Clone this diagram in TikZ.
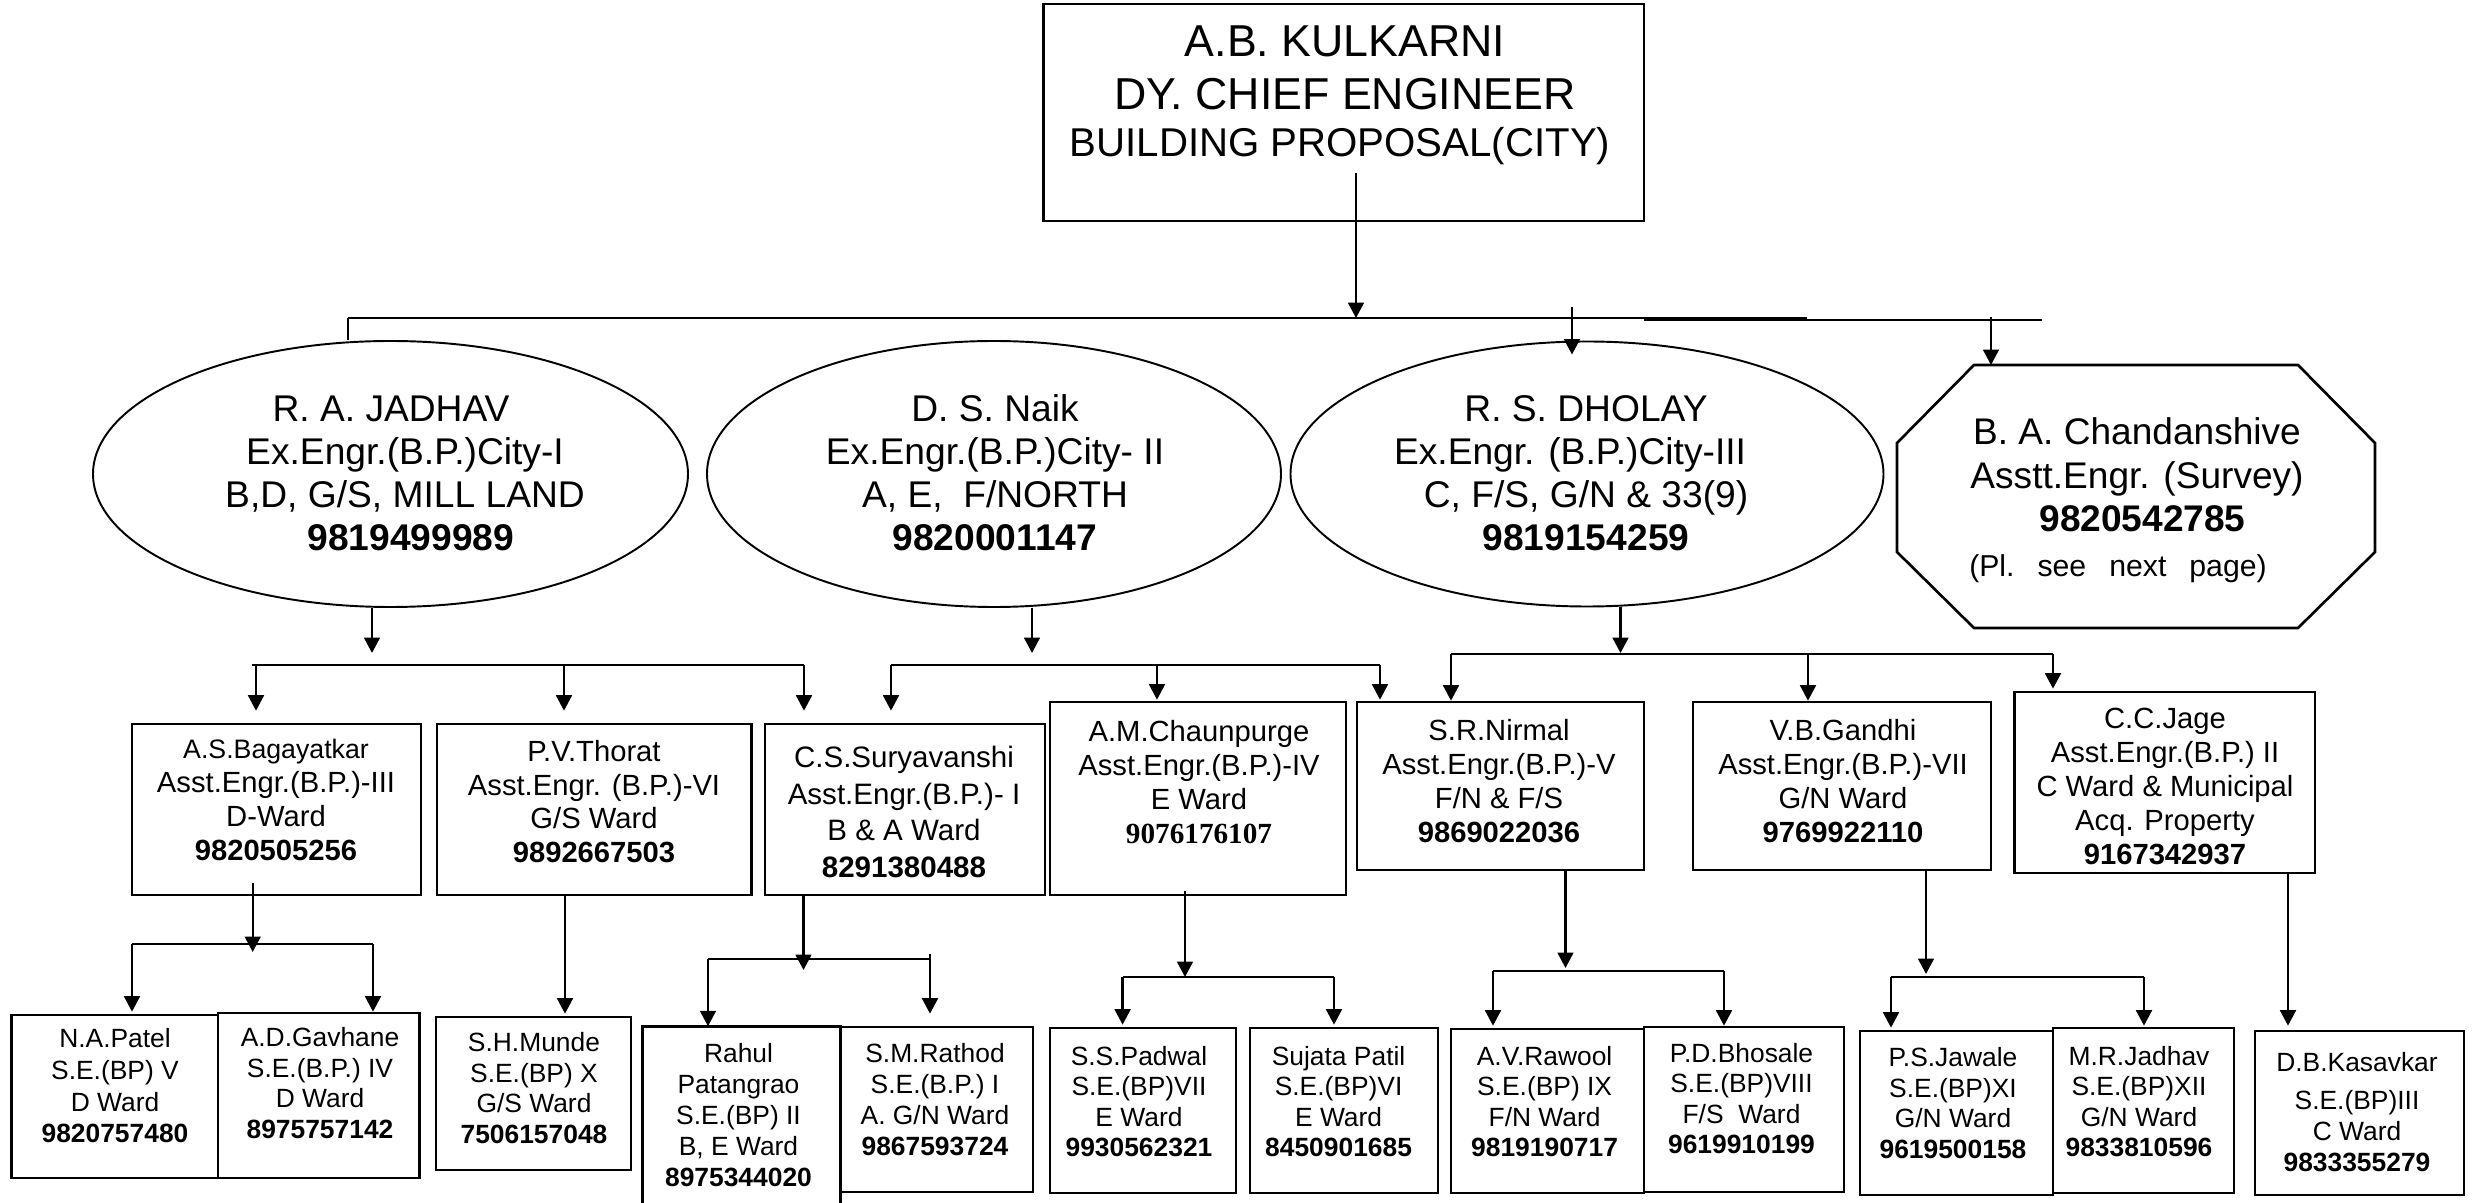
\documentclass[tikz,border=0pt]{standalone}
\usepackage{fontspec}
\setmainfont{Liberation Sans}
\newfontfamily\tnr{Liberation Serif}
\usetikzlibrary{arrows.meta,fit,calc,shapes.geometric}
\newcommand{\tb}[3]{\fontsize{#1}{#2}\selectfont\begin{tabular}[t]{@{}c@{}}#3\end{tabular}}
\begin{document}
\begin{tikzpicture}[x=0.1mm,y=-0.1mm,
  ln/.style={line width=0.68pt},
  arr/.style={line width=0.68pt,-{Triangle[length=4.4pt,width=4.5pt]}},
  bx/.style={draw,line width=0.75pt,inner sep=0pt},
  ell/.style={draw,ellipse,line width=0.55pt,inner sep=0pt},
  tx/.style={anchor=base,inner sep=0pt}]
\fill[white] (0,0) rectangle (2473,1203);
\useasboundingbox (0,0) rectangle (2473,1203);

% ---------- top ----------
\node[bx,fit={(1043.5,4) (1644,221)}] (top) {};
\node[tx] (ttop) at (1345,57) {\tb{12.72}{15.08}{A.B. KULKARNI\\DY. CHIEF ENGINEER}};
\node[tx] (ttop2) at (1340,157) {\tb{11.44}{13}{BUILDING PROPOSAL(CITY)}};

% ---------- level 1 ----------
\node[ell,minimum width=59.5mm,minimum height=26.6mm] (jad) at (390.5,474) {};
\node[ell,minimum width=57.4mm,minimum height=26.6mm] (naik) at (994,474) {};
\node[ell,minimum width=59.3mm,minimum height=26.5mm] (dho) at (1587,474) {};
\node[tx] (tjad) at (405,421.7) {\tb{10.58}{12.18}{R. A. JADHAV\hspace*{2.8mm}\\Ex.Engr.(B.P.)City-I\\B,D, G/S, MILL LAND\\\hspace*{1.2mm}\textbf{9819499989}}};
\node[tx] (tnaik) at (995,421.7) {\tb{10.58}{12.18}{D. S. Naik\\Ex.Engr.(B.P.)City- II\\A, E,\ \ F/NORTH\\\textbf{9820001147}}};
\node[tx] (tdho) at (1586,421.7) {\tb{10.58}{12.18}{R. S. DHOLAY\\Ex.Engr. (B.P.)City-III\hspace*{3.2mm}\\C, F/S, G/N \& 33(9)\\\textbf{9819154259}}};

\draw[line width=0.75pt] (1974,365) -- (2298,365) -- (2375,443) -- (2375,552) -- (2298,628) -- (1974,628) -- (1897,552) -- (1897,443) -- cycle;
\coordinate (oct) at (1991,365);
\node[tx] (toct) at (2137,445) {\tb{10.55}{12.32}{B. A. Chandanshive\\Asstt.Engr. (Survey)\\\hspace*{1.1mm}\textbf{9820542785}}};
\node[tx] (toct2) at (2118,576.7) {\fontsize{8.6}{10}\selectfont (Pl.\hspace{2.3mm}see\hspace{2.3mm}next\hspace{2.3mm}page)};

% top connectors
\coordinate (busL) at (348,318);
\coordinate (busR) at (1807,318);
\coordinate (bus2L) at (1644,320);
\coordinate (bus2R) at (2042,320);
\coordinate (topT) at (1356,318);
\draw[arr] ($(top.south -| topT)+(0,-49)$) -- (topT);
\draw[ln] (busL) -- (busR);
\draw[ln] (bus2L) -- (bus2R);
\draw[ln] (busL) -- (busL |- jad.north);
\coordinate (dhoS) at (1572,307);
\draw[arr] (dhoS) -- ($(dhoS |- dho.north)+(0,14)$);
\coordinate (octS) at (1991,317);
\draw[arr] (octS) -- (oct);

% ---------- level 2 boxes ----------
\node[bx,fit={(132,724) (421,895)}] (bag) {};
\node[bx,fit={(437,724) (751.5,895)}] (tho) {};
\node[bx,fit={(765,724) (1045,895)}] (sur) {};
\node[bx,fit={(1050,702) (1346,895)}] (cha) {};
\node[bx,fit={(1357,702) (1644,870)}] (nir) {};
\node[bx,fit={(1693,702) (1991,870)}] (gan) {};
\node[bx,fit={(2014.6,692) (2315,873)}] (jag) {};

\node[tx] (tbag) at (276,759) {\tb{8.31}{9.67}{{\fontsize{7.6}{9.67}\selectfont A.S.Bagayatkar}\\Asst.Engr.(B.P.)-III\\D-Ward\\\textbf{9820505256}}};
\node[tx] (ttho) at (594,762) {\tb{8.31}{9.5}{P.V.Thorat\\Asst.Engr. (B.P.)-VI\\G/S Ward\\\textbf{9892667503}}};
\node[tx] (tsur) at (904,768) {\tb{8.4}{10.38}{C.S.Suryavanshi\\Asst.Engr.(B.P.)- I\\B \& A Ward\\\textbf{8291380488}}};
\node[tx] (tcha) at (1199,741.7) {\tb{8.31}{9.62}{A.M.Chaunpurge\\Asst.Engr.(B.P.)-IV\\E Ward\\{\tnr\bfseries 9076176107}}};
\node[tx] (tnir) at (1499,741) {\tb{8.31}{9.62}{S.R.Nirmal\\Asst.Engr.(B.P.)-V\\F/N \& F/S\\\textbf{9869022036}}};
\node[tx] (tgan) at (1843,741) {\tb{8.31}{9.62}{V.B.Gandhi\\Asst.Engr.(B.P.)-VII\\G/N Ward\\\textbf{9769922110}}};
\node[tx] (tjag) at (2165,729) {\tb{8.31}{9.67}{C.C.Jage\\Asst.Engr.(B.P.) II\\C Ward \& Municipal\\Acq. Property\\\textbf{9167342937}}};

% level 2 connectors
\coordinate (jT) at (372,653);
\draw[arr] (jad.south -| jT) -- (jT);
\coordinate (jL) at (252,665); \coordinate (jR) at (804,665);
\coordinate (j1) at (256,665); \coordinate (j2) at (564,665);
\draw[ln] (jL) -- (jR);
\draw[arr] (j1) -- ($(j1 |- bag.north)+(0,-12)$);
\draw[arr] (j2) -- ($(j2 |- tho.north)+(0,-12)$);
\draw[arr] (jR) -- ($(jR |- sur.north)+(0,-12)$);

\coordinate (nT) at (1032,653);
\draw[arr] (naik.south -| nT) -- (nT);
\coordinate (nL) at (891,665); \coordinate (nR) at (1380,665); \coordinate (n2) at (1157,665);
\draw[ln] (nL) -- (nR);
\draw[arr] (nL) -- ($(nL |- sur.north)+(0,-12)$);
\draw[arr] (n2) -- ($(n2 |- cha.north)+(0,-1)$);
\draw[arr] (nR) -- ($(nR |- nir.north)+(0,-1)$);

\coordinate (dT) at (1620.5,653);
\draw[arr] (dho.south -| dT) -- (dT);
\coordinate (dL) at (1451,654); \coordinate (d2) at (1808,654); \coordinate (dR) at (2053,654);
\draw[ln] (dL) -- (dR);
\draw[arr] (dL) -- (dL |- nir.north);
\draw[arr] (d2) -- (d2 |- gan.north);
\draw[arr] (dR) -- ($(dR |- jag.north)+(0,-2)$);

% ---------- level 3 boxes ----------
\node[bx,fit={(11.5,1015) (218,1178)}] (pat) {};
\node[bx,fit={(218,1013) (419.4,1178)}] (gav) {};
\node[bx,fit={(436,1017) (631,1170)}] (mun) {};
\node[inner sep=0pt,fit={(643,1027) (840,1203)}] (rah) {};
\draw[line width=0.75pt] (rah.south west) -- (rah.north west) -- (rah.north east) -- (rah.south east);
\node[bx,fit={(840,1027) (1033,1192)}] (rat) {};
\node[bx,fit={(1050,1028) (1236,1193)}] (pad) {};
\node[bx,fit={(1250,1028) (1438,1193)}] (suj) {};
\node[bx,fit={(1451,1029) (1644,1193)}] (raw) {};
\node[bx,fit={(1644,1027) (1844,1192)}] (bho) {};
\node[bx,fit={(1860,1031) (2053,1195)}] (jaw) {};
\node[bx,fit={(2053,1028) (2234,1193)}] (mrj) {};
\node[bx,fit={(2255,1031) (2464,1195)}] (kas) {};

\node[tx] (tpat) at (115,1048) {\tb{7.51}{9.0}{N.A.Patel\\S.E.(BP) V\\D Ward\\\textbf{9820757480}}};
\node[tx] (tgav) at (320,1046.7) {\tb{7.51}{8.68}{A.D.Gavhane\\S.E.(B.P.) IV\\D Ward\\\textbf{8975757142}}};
\node[tx] (tmun) at (534,1051.7) {\tb{7.51}{8.68}{S.H.Munde\\S.E.(BP) X\\G/S Ward\\\textbf{7506157048}}};
\node[tx] (trah) at (738.5,1063) {\tb{7.51}{8.75}{Rahul\\Patangrao\\S.E.(BP) II\\B, E Ward\\\textbf{8975344020}}};
\node[tx] (trat) at (935,1063) {\tb{7.51}{8.75}{S.M.Rathod\\S.E.(B.P.) I\\A. G/N Ward\\\textbf{9867593724}}};
\node[tx] (tpad) at (1139,1065) {\tb{7.51}{8.68}{S.S.Padwal\\S.E.(BP)VII\\E Ward\\\textbf{9930562321}}};
\node[tx] (tsuj) at (1338.6,1065) {\tb{7.51}{8.68}{Sujata Patil\\S.E.(BP)VI\\E Ward\\\textbf{8450901685}}};
\node[tx] (traw) at (1544.6,1065) {\tb{7.51}{8.68}{A.V.Rawool\\S.E.(BP) IX\\F/N Ward\\\textbf{9819190717}}};
\node[tx] (tbho) at (1741.5,1062) {\tb{7.51}{8.68}{P.D.Bhosale\\S.E.(BP)VIII\\F/S\ \ Ward\\\textbf{9619910199}}};
\node[tx] (tjaw) at (1953,1066.7) {\tb{7.51}{8.68}{P.S.Jawale\\S.E.(BP)XI\\G/N Ward\\\textbf{9619500158}}};
\node[tx] (tmrj) at (2139,1065) {\tb{7.51}{8.68}{M.R.Jadhav\\S.E.(BP)XII\\G/N Ward\\\textbf{9833810596}}};
\node[tx] (tkas) at (2357,1072) {\tb{7.51}{8.68}{D.B.Kasavkar}};
\node[tx] (tkas2) at (2357,1110) {\tb{7.51}{8.68}{S.E.(BP)III\\C Ward\\\textbf{9833355279}}};

% level 3 connectors
\coordinate (bT) at (252.7,952);
\draw[arr] ($(bag.south -| bT)+(0,-13)$) -- (bT);
\coordinate (bL) at (132,944); \coordinate (bR) at (373,944);
\draw[ln] (bL) -- (bR);
\draw[arr] (bL) -- ($(bL |- pat.north)+(0,-2)$);
\draw[arr] (bR) -- (bR |- gav.north);

\coordinate (tT) at (565,1000);
\draw[arr] (tho.south -| tT) -- ($(tT |- mun.north)+(0,-2)$);

\coordinate (sT) at (803.5,970);
\draw[arr] (sur.south -| sT) -- (sT);
\coordinate (sL) at (708,959); \coordinate (sR) at (930,959);
\draw[ln] (sL) -- (sR);
\draw[arr] (sL) -- (sL |- rah.north);
\draw[arr] ($(sR)+(0,-5)$) -- ($(sR |- rat.north)+(0,-12)$);

\coordinate (cT) at (1185,977);
\draw[arr] ($(cha.south -| cT)+(0,-5)$) -- (cT);
\coordinate (cL) at (1122.6,977); \coordinate (cR) at (1334,977);
\draw[ln] (cL) -- (cR);
\draw[arr] (cL) -- ($(cL |- pad.north)+(0,-2)$);
\draw[arr] (cR) -- ($(cR |- suj.north)+(0,-2)$);

\coordinate (rT) at (1565.5,968);
\draw[arr] (nir.south -| rT) -- (rT);
\coordinate (rL) at (1493,971); \coordinate (rR) at (1724,971);
\draw[ln] (rL) -- (rR);
\draw[arr] (rL) -- ($(rL |- raw.north)+(0,-2)$);
\draw[arr] (rR) -- (rR |- bho.north);

\coordinate (gT) at (1926,974);
\draw[arr] (gan.south -| gT) -- (gT);
\coordinate (gL) at (1891,977); \coordinate (gR) at (2144,977);
\draw[ln] (gL) -- (gR);
\draw[arr] (gL) -- ($(gL |- jaw.north)+(0,-2)$);
\draw[arr] (gR) -- ($(gR |- mrj.north)+(0,-1)$);

\coordinate (kT) at (2288,900);
\draw[arr] (jag.south -| kT) -- ($(kT |- kas.north)+(0,-4)$);
\end{tikzpicture}
\end{document}
